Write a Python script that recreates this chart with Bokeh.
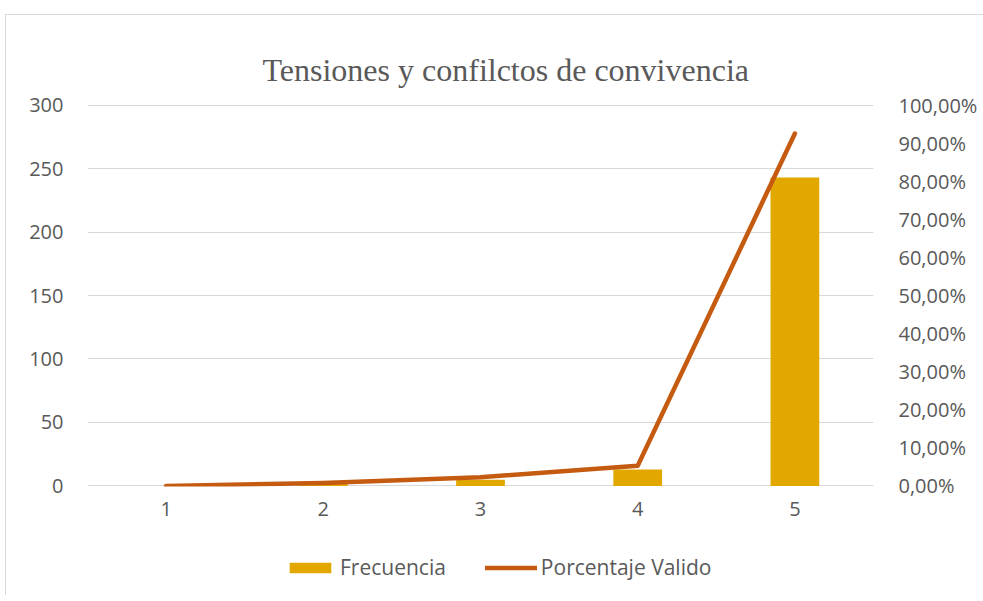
from bokeh.plotting import figure
from bokeh.layouts import column
from bokeh.models import (Range1d, LinearAxis, FixedTicker, Legend, LegendItem,
                          FactorRange)
from bokeh.embed import file_html
from bokeh.resources import INLINE

# Data
categories = ["1", "2", "3", "4", "5"]
frecuencia = [0, 2, 5, 13, 243]
porcentaje_valido = [0.0, 0.8, 2.3, 5.3, 92.5]
left_ticks = [0, 50, 100, 150, 200, 250, 300]
right_ticks = [0, 10, 20, 30, 40, 50, 60, 70, 80, 90, 100]
right_labels = {t: f"{t},00%" for t in right_ticks}
series_names = ["Frecuencia", "Porcentaje Valido"]

TXT = "#595959"
GRID = "#D9D9D9"
BAR = "#E3A800"
LINE = "#C55A11"
FONT = "Open Sans"
FS = "20px"

p = figure(x_range=FactorRange(*categories, range_padding=0),
           y_range=Range1d(-0.4, 300.4),
           frame_width=785, frame_height=381,
           min_border_left=81, min_border_right=111,
           min_border_top=89, min_border_bottom=50,
           output_backend="svg", toolbar_location=None,
           outline_line_color=None, background_fill_color="white",
           border_fill_color="white")
p.styles = {"border-left": "1px solid #d9d9d9", "border-top": "1px solid #d9d9d9",
            "margin-left": "5px", "margin-top": "14px"}

p.extra_y_ranges = {"pct": Range1d(-0.4 / 3, 100 + 0.4 / 3)}

bars = p.vbar(x=categories, top=frecuencia, bottom=0, width=0.31, color=BAR, line_color=None)
line = p.line(x=categories, y=porcentaje_valido, y_range_name="pct",
              line_color=LINE, line_width=4.5, line_cap="round", line_join="round")

# left axis
ax = p.yaxis[0]
ax.ticker = FixedTicker(ticks=left_ticks)
ax.axis_line_color = None
ax.major_tick_line_color = None
ax.minor_tick_line_color = None
ax.major_tick_out = 0
ax.major_label_text_color = TXT
ax.major_label_text_font = FONT
ax.major_label_text_font_size = FS
ax.major_label_standoff = 24

# right axis
rax = LinearAxis(y_range_name="pct", ticker=FixedTicker(ticks=right_ticks),
                 major_label_overrides=right_labels)
rax.axis_line_color = None
rax.major_tick_line_color = None
rax.minor_tick_line_color = None
rax.major_tick_out = 0
rax.major_label_text_color = TXT
rax.major_label_text_font = FONT
rax.major_label_text_font_size = FS
rax.major_label_standoff = 25
p.add_layout(rax, "right")

# x axis
xa = p.xaxis[0]
xa.axis_line_color = None
xa.major_tick_line_color = None
xa.minor_tick_line_color = None
xa.major_tick_out = 0
xa.major_label_text_color = TXT
xa.major_label_text_font = FONT
xa.major_label_text_font_size = FS
xa.major_label_standoff = 15

p.xgrid.grid_line_color = None
p.ygrid.grid_line_color = GRID
p.ygrid.ticker = FixedTicker(ticks=left_ticks)

p.title.text = "Tensiones y confilctos de convivencia"
p.title.align = "left"
p.title.offset = 175
p.title.standoff = 33
p.title.text_font = "Liberation Serif"
p.title.text_font_size = "32px"
p.title.text_font_style = "normal"
p.title.text_color = TXT

# legend strip below the chart (series drawn again but kept out of view)
lg = figure(x_range=FactorRange(*categories), y_range=Range1d(1000, 2000),
            width=977, height=60, min_border=0,
            x_axis_location=None, y_axis_location=None,
            output_backend="svg", toolbar_location=None,
            outline_line_color=None, background_fill_color="white",
            border_fill_color="white")
lg.styles = {"border-left": "1px solid #d9d9d9", "margin-left": "5px"}
lg.grid.visible = False
lbar = lg.vbar(x=categories, top=frecuencia, bottom=0, width=0.31, color=BAR, line_color=None)
lline = lg.line(x=categories, y=porcentaje_valido, line_color=LINE, line_width=4.5,
                line_cap="round")

legend = Legend(items=[LegendItem(label=series_names[0], renderers=[lbar]),
                       LegendItem(label=series_names[1], renderers=[lline])],
                orientation="horizontal", location=(197, 14),
                glyph_width=52, glyph_height=13, spacing=39,
                label_text_font=FONT, label_text_font_size="21px",
                label_text_color=TXT, label_standoff=4,
                border_line_color=None, background_fill_alpha=0)
lg.add_layout(legend, "center")

layout = column(p, lg, spacing=0)
open("out.html", "w").write(file_html(layout, INLINE))
